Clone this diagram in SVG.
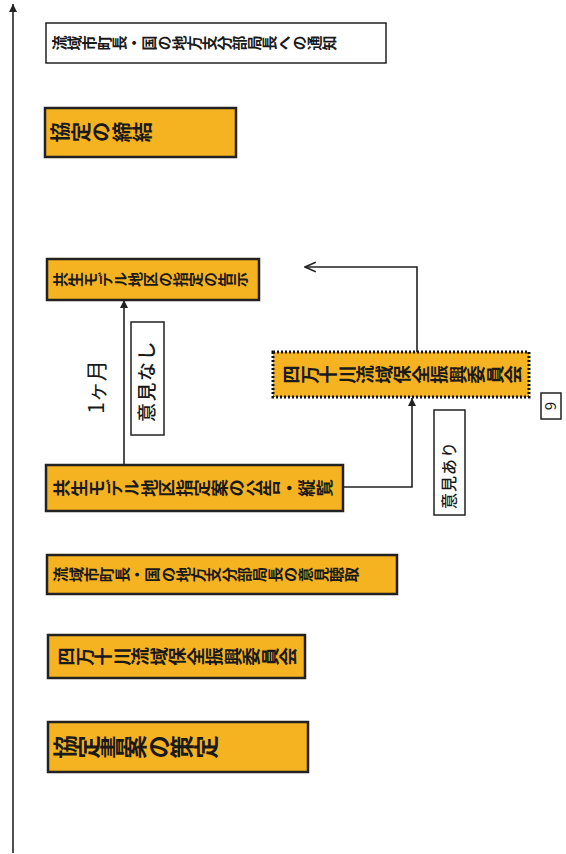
<svg xmlns="http://www.w3.org/2000/svg" width="566" height="854" viewBox="0 0 566 854">
<style>
.box{fill:#f5b321;stroke:#222;stroke-width:2.5}
.wbox{fill:#fff;stroke:#222;stroke-width:1.5}
.dot{fill:#f5b321;stroke:#111;stroke-width:3;stroke-dasharray:2 2}
.v{font-family:"Noto Sans CJK JP","Noto Sans CJK SC",sans-serif;font-weight:700;fill:#1a1a1a;writing-mode:vertical-rl}
.h{font-family:"Noto Sans CJK JP","Noto Sans CJK SC",sans-serif;fill:#1a1a1a}
.ln{fill:none;stroke:#222;stroke-width:1.6}
</style>
<defs>
<marker id="af" viewBox="0 0 10 10" refX="10" refY="5" markerWidth="8" markerHeight="8" orient="auto" markerUnits="userSpaceOnUse">
<path d="M0,0 L10,5 L0,10 z" fill="#222"/>
</marker>
<marker id="ao" viewBox="0 0 10 10" refX="9" refY="5" markerWidth="12" markerHeight="12" orient="auto" markerUnits="userSpaceOnUse">
<path d="M0,1 L9,5 L0,9" fill="none" stroke="#222" stroke-width="1.3"/>
</marker>
</defs>

<g id="connectors">
<line class="ln" x1="13" y1="853" x2="13" y2="4" marker-end="url(#af)"/>
<line class="ln" x1="124" y1="465" x2="124" y2="300" marker-end="url(#af)"/>
<polyline class="ln" points="343,487 412,487 412,398" marker-end="url(#af)"/>
<polyline class="ln" points="417,352 417,267 305,267" marker-end="url(#ao)"/>
</g>

<g id="n-tsuchi">
<rect class="wbox" x="46" y="23" width="340" height="40"/>
<text class="v" font-size="15" transform="translate(52,43) rotate(-90)">流域市町長・国の地方支分部局長への通知</text>
</g>

<g id="n-teiketsu">
<rect class="box" x="45" y="108" width="191" height="49"/>
<text class="v" font-size="20.5" transform="translate(50,132) rotate(-90)">協定の締結</text>
</g>

<g id="n-kokuji">
<rect class="box" x="47" y="259" width="212" height="41"/>
<text class="v" font-size="15" transform="translate(53,279.5) rotate(-90)">共生モデル地区の指定の告示</text>
</g>

<g id="n-ikkagetsu">
<text class="h" font-size="21" style="font-weight:400" text-anchor="middle" transform="translate(104,387) rotate(-90)">1ヶ月</text>
</g>

<g id="n-ikennashi">
<rect class="wbox" x="131" y="322" width="33" height="113"/>
<text class="h" font-size="19" style="font-weight:500" letter-spacing="1.5" text-anchor="middle" transform="translate(154,381) rotate(-90)">意見なし</text>
</g>

<g id="n-iinkai2">
<rect class="dot" x="273" y="352" width="256" height="45"/>
<text class="v" font-size="18.5" transform="translate(282,374.5) rotate(-90)">四万十川流域保全振興委員会</text>
</g>

<g id="n-ikenari">
<rect class="wbox" x="434" y="410" width="31" height="105"/>
<text class="h" font-size="16" style="font-weight:500" letter-spacing="1" text-anchor="middle" transform="translate(455,475) rotate(-90)">意見あり</text>
</g>

<g id="n-page">
<rect class="wbox" x="541" y="393" width="20" height="26"/>
<text class="h" font-size="15" style="font-weight:400" text-anchor="middle" transform="translate(556,406) rotate(-90)">9</text>
</g>

<g id="n-koukoku">
<rect class="box" x="46" y="465" width="297" height="46" stroke-width="3"/>
<text class="v" font-size="17.5" transform="translate(53,488) rotate(-90)">共生モデル地区指定案の公告・縦覧</text>
</g>

<g id="n-choshu">
<rect class="box" x="47" y="555" width="350" height="39"/>
<text class="v" font-size="15.3" transform="translate(53,574.5) rotate(-90)">流域市町長・国の地方支分部局長の意見聴取</text>
</g>

<g id="n-iinkai">
<rect class="box" x="48" y="635" width="257" height="43"/>
<text class="v" font-size="18.5" transform="translate(57,656.5) rotate(-90)">四万十川流域保全振興委員会</text>
</g>

<g id="n-sakutei">
<rect class="box" x="48" y="722" width="260" height="50" stroke-width="3"/>
<text class="v" font-size="23.5" transform="translate(53,747) rotate(-90)">協定書案の策定</text>
</g>
</svg>
